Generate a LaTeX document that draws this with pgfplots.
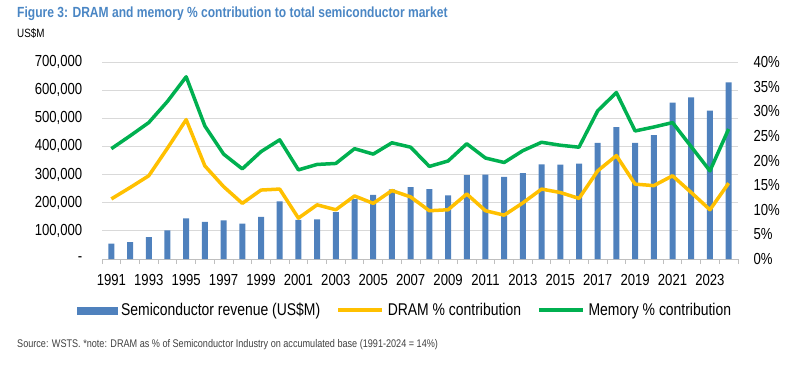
\documentclass[border=0pt]{standalone}
\usepackage{fontspec}
\setmainfont{Liberation Sans}[FakeStretch=0.82]
\usepackage{pgfplots}
\usepackage{pgfplotstable}
\pgfplotsset{compat=1.18}
\definecolor{barblue}{RGB}{79,129,189}
\definecolor{dramyellow}{RGB}{255,192,0}
\definecolor{memgreen}{RGB}{0,176,80}
\definecolor{titleblue}{RGB}{74,134,196}
\definecolor{gridgrey}{RGB}{217,217,217}
\definecolor{axisgrey}{RGB}{191,191,191}
\definecolor{srcgrey}{RGB}{64,64,64}

\pgfplotstableread{
year rev dram mem
1991 54607 12.2 22.4
1992 59613 14.5 25.0
1993 77315 16.9 27.7
1994 101878 22.5 32.0
1995 144404 28.3 37.0
1996 131966 18.9 27.0
1997 137203 14.7 21.3
1998 125610 11.3 18.3
1999 149379 14.0 21.8
2000 204394 14.2 24.2
2001 138960 8.3 18.1
2002 140703 11.0 19.2
2003 166425 10.0 19.4
2004 213027 12.8 22.4
2005 227484 11.3 21.3
2006 247716 13.9 23.6
2007 255645 12.6 22.7
2008 248603 9.8 18.8
2009 226313 10.0 19.9
2010 298315 13.2 23.4
2011 299521 9.8 20.5
2012 291562 8.9 19.6
2013 305584 11.4 22.0
2014 335843 14.2 23.7
2015 335168 13.5 23.1
2016 338931 12.3 22.7
2017 412221 17.9 30.1
2018 468778 21.0 33.8
2019 412307 15.2 26.0
2020 440389 14.9 26.8
2021 555893 16.9 27.7
2022 574084 13.5 22.8
2023 526885 10.0 17.9
2024 627552 15.4 26.4
}\data

\pgfplotsset{
  barleg/.style={legend image code/.code={\fill[barblue] (0pt,-3.5pt) rectangle (40pt,3.5pt);}},
  lineleg/.style={legend image code/.code={\draw[##1] (0pt,0pt) -- (44pt,0pt);}},
}

\begin{document}
\begin{tikzpicture}
\useasboundingbox (0pt,0pt) rectangle (795pt,368pt);
\node[anchor=west, inner sep=0, text=titleblue, font=\bfseries\fontsize{14.7}{16}\selectfont] at (17pt,354.5pt)
  {Figure 3: DRAM and memory \% contribution to total semiconductor market};
\node[anchor=west, inner sep=0, font=\fontsize{12}{14}\selectfont] at (17pt,335pt) {US\$M};
\node[anchor=west, inner sep=0, text=srcgrey, font=\fontsize{11.1}{13}\selectfont] at (17pt,23pt)
  {Source: WSTS. *note: DRAM as \% of Semiconductor Industry on accumulated base (1991-2024 = 14\%)};

\begin{axis}[
  at={(102pt,109pt)}, anchor=south west, scale only axis,
  width=636pt, height=197pt,
  xmin=1990.5, xmax=2024.5, ymin=0, ymax=700000,
  scaled y ticks=false,
  axis x line*=bottom, axis y line*=left,
  x axis line style={axisgrey, line width=0.8pt},
  y axis line style={draw=none},
  xtick={1991,1993,...,2023},
  xticklabels={1991,1993,1995,1997,1999,2001,2003,2005,2007,2009,2011,2013,2015,2017,2019,2021,2023},
  major x tick style={draw=none},
  minor xtick={1990.5,1991.5,...,2024.5},
  minor x tick style={axisgrey, line width=0.8pt},
  minor tick length=5pt,
  tick align=outside,
  ytick={0,100000,...,700000},
  yticklabels={{-\hspace{8pt}},{100,000},{200,000},{300,000},{400,000},{500,000},{600,000},{700,000}},
  major y tick style={draw=none},
  ymajorgrids, grid style={gridgrey, line width=0.8pt},
  tick label style={font=\fontsize{16}{18}\selectfont},
  xticklabel style={yshift=-8pt},
  yticklabel style={xshift=-12pt},
  clip=false,
]
\addplot[ybar, bar width=6pt, fill=barblue, draw=none] table[x=year, y=rev]{\data};
\end{axis}

\begin{axis}[
  at={(102pt,109pt)}, anchor=south west, scale only axis,
  width=636pt, height=197pt,
  xmin=1990.5, xmax=2024.5, ymin=0, ymax=40,
  axis x line=none, axis y line*=right,
  y axis line style={draw=none},
  ytick={0,5,...,40},
  yticklabels={0\%,5\%,10\%,15\%,20\%,25\%,30\%,35\%,40\%},
  major y tick style={draw=none},
  yticklabel style={anchor=west, xshift=12pt, font=\fontsize{16}{18}\selectfont},
  legend columns=3,
  legend style={draw=none, fill=none, inner sep=0pt, at={(-0.04,-0.26)}, anchor=west,
    font=\fontsize{17}{19}\selectfont,
    /tikz/every odd column/.append style={column sep=2pt},
    /tikz/every even column/.append style={column sep=14pt}},
  clip=false,
]
\addlegendimage{barleg}
\addlegendentry{Semiconductor revenue (US\$M)}
\addplot[dramyellow, line width=3.5pt, line join=round, lineleg] table[x=year, y=dram]{\data};
\addlegendentry{DRAM \% contribution}
\addplot[memgreen, line width=3.5pt, line join=round, lineleg] table[x=year, y=mem]{\data};
\addlegendentry{Memory \% contribution}
\end{axis}
\end{tikzpicture}
\end{document}
